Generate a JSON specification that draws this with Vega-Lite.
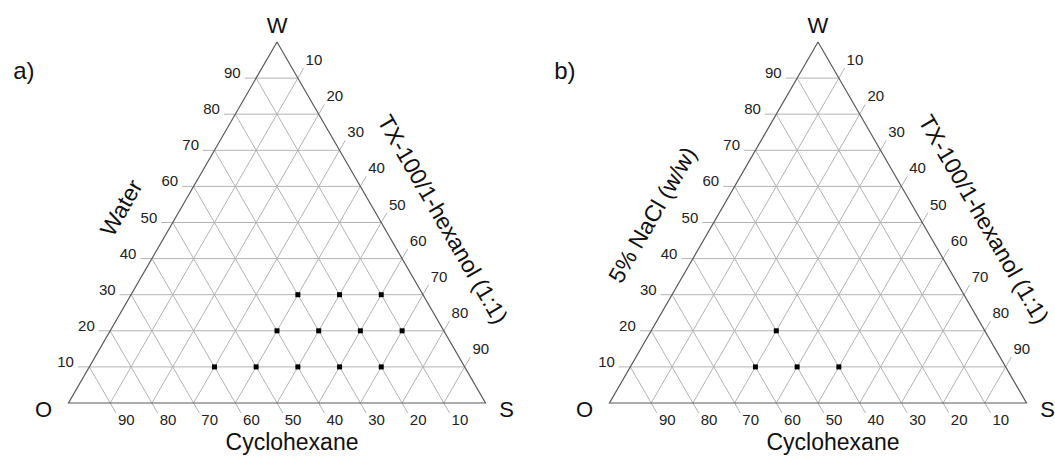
{
  "$schema": "https://vega.github.io/schema/vega-lite/v6.json",
  "padding": 0,
  "spacing": 0,
  "bounds": "flush",
  "background": "white",
  "config": {"view": {"stroke": null}, "text": {"font": "Liberation Sans"}},
  "datasets": {
    "grid": [
      {"fam": "W", "lev": 10}, {"fam": "W", "lev": 20}, {"fam": "W", "lev": 30}, {"fam": "W", "lev": 40}, {"fam": "W", "lev": 50}, {"fam": "W", "lev": 60}, {"fam": "W", "lev": 70}, {"fam": "W", "lev": 80}, {"fam": "W", "lev": 90},
      {"fam": "O", "lev": 10}, {"fam": "O", "lev": 20}, {"fam": "O", "lev": 30}, {"fam": "O", "lev": 40}, {"fam": "O", "lev": 50}, {"fam": "O", "lev": 60}, {"fam": "O", "lev": 70}, {"fam": "O", "lev": 80}, {"fam": "O", "lev": 90},
      {"fam": "S", "lev": 10}, {"fam": "S", "lev": 20}, {"fam": "S", "lev": 30}, {"fam": "S", "lev": 40}, {"fam": "S", "lev": 50}, {"fam": "S", "lev": 60}, {"fam": "S", "lev": 70}, {"fam": "S", "lev": 80}, {"fam": "S", "lev": 90}
    ],
    "tri": [
      {"k": 0, "W": 100, "S": 0}, {"k": 1, "W": 0, "S": 0}, {"k": 2, "W": 0, "S": 100}, {"k": 3, "W": 100, "S": 0}
    ],
    "pts": [
      {"panel": "a", "W": 30, "S": 40, "O": 30}, {"panel": "a", "W": 30, "S": 50, "O": 20}, {"panel": "a", "W": 30, "S": 60, "O": 10},
      {"panel": "a", "W": 20, "S": 40, "O": 40}, {"panel": "a", "W": 20, "S": 50, "O": 30}, {"panel": "a", "W": 20, "S": 60, "O": 20}, {"panel": "a", "W": 20, "S": 70, "O": 10},
      {"panel": "a", "W": 10, "S": 30, "O": 60}, {"panel": "a", "W": 10, "S": 40, "O": 50}, {"panel": "a", "W": 10, "S": 50, "O": 40}, {"panel": "a", "W": 10, "S": 60, "O": 30}, {"panel": "a", "W": 10, "S": 70, "O": 20},
      {"panel": "b", "W": 20, "S": 30, "O": 50},
      {"panel": "b", "W": 10, "S": 30, "O": 60}, {"panel": "b", "W": 10, "S": 40, "O": 50}, {"panel": "b", "W": 10, "S": 50, "O": 40}
    ]
  },
  "hconcat": [
    {
      "width": 541,
      "height": 461,
      "layer": [
        {
          "data": {"name": "grid"},
          "transform": [
            {"calculate": "datum.fam==='W' ? datum.lev/2-2.75 : datum.fam==='O' ? (100-datum.lev)/2 : datum.lev", "as": "x1"},
            {"calculate": "datum.fam==='W' ? datum.lev : datum.fam==='O' ? 100-datum.lev : 0", "as": "y1"},
            {"calculate": "datum.fam==='W' ? 100-datum.lev/2 : datum.fam==='O' ? 101.375-datum.lev : (102.75+datum.lev)/2", "as": "x2"},
            {"calculate": "datum.fam==='W' ? datum.lev : datum.fam==='O' ? -2.75 : 102.75-datum.lev", "as": "y2"}
          ],
          "mark": {"type": "rule", "color": "#b3b3b3", "strokeWidth": 1},
          "encoding": {
            "x": {"field": "x1", "type": "quantitative", "scale": {"domain": [-16.427, 113.309], "nice": false, "zero": false}, "axis": null},
            "y": {"field": "y1", "type": "quantitative", "scale": {"domain": [-16.066, 111.634], "nice": false, "zero": false}, "axis": null},
            "x2": {"field": "x2"},
            "y2": {"field": "y2"}
          }
        },
        {
          "data": {"name": "tri"},
          "transform": [{"calculate": "datum.S + datum.W/2", "as": "x"}],
          "mark": {"type": "line", "color": "#5a5a5a", "strokeWidth": 1.2},
          "encoding": {
            "x": {"field": "x", "type": "quantitative"},
            "y": {"field": "W", "type": "quantitative"},
            "order": {"field": "k", "type": "quantitative"}
          }
        },
        {
          "data": {"name": "grid"},
          "transform": [
            {"filter": "datum.fam==='W'"},
            {"calculate": "datum.lev/2-2.75", "as": "x1"}
          ],
          "mark": {"type": "text", "align": "right", "baseline": "alphabetic", "dx": -4, "dy": 0, "fontSize": 15, "color": "#222"},
          "encoding": {
            "x": {"field": "x1", "type": "quantitative"},
            "y": {"field": "lev", "type": "quantitative"},
            "text": {"field": "lev", "type": "nominal"}
          }
        },
        {
          "data": {"name": "grid"},
          "transform": [
            {"filter": "datum.fam==='O'"},
            {"calculate": "101.375-datum.lev", "as": "x2"},
            {"calculate": "-2.75", "as": "y2"}
          ],
          "mark": {"type": "text", "align": "left", "baseline": "top", "dx": 2, "dy": 0, "fontSize": 15, "color": "#222"},
          "encoding": {
            "x": {"field": "x2", "type": "quantitative"},
            "y": {"field": "y2", "type": "quantitative"},
            "text": {"field": "lev", "type": "nominal"}
          }
        },
        {
          "data": {"name": "grid"},
          "transform": [
            {"filter": "datum.fam==='S'"},
            {"calculate": "(102.75+datum.lev)/2", "as": "x2"},
            {"calculate": "102.75-datum.lev", "as": "y2"}
          ],
          "mark": {"type": "text", "align": "left", "baseline": "alphabetic", "dx": 2, "dy": -3, "fontSize": 15, "color": "#222"},
          "encoding": {
            "x": {"field": "x2", "type": "quantitative"},
            "y": {"field": "y2", "type": "quantitative"},
            "text": {"field": "lev", "type": "nominal"}
          }
        },
        {
          "data": {"name": "pts"},
          "transform": [
            {"filter": "datum.panel==='a'"},
            {"calculate": "datum.S + datum.W/2", "as": "x"}
          ],
          "mark": {"type": "square", "filled": true, "color": "black", "size": 25, "opacity": 1},
          "encoding": {
            "x": {"field": "x", "type": "quantitative"},
            "y": {"field": "W", "type": "quantitative"}
          }
        },
        {
          "data": {"values": [{}]},
          "mark": {"type": "text", "align": "center", "baseline": "alphabetic", "dy": -9, "fontSize": 22, "color": "#111"},
          "encoding": {"x": {"datum": 50, "type": "quantitative"}, "y": {"datum": 100, "type": "quantitative"}, "text": {"value": "W"}}
        },
        {
          "data": {"values": [{}]},
          "mark": {"type": "text", "align": "center", "baseline": "alphabetic", "dx": -25, "dy": 14, "fontSize": 22, "color": "#111"},
          "encoding": {"x": {"datum": 0, "type": "quantitative"}, "y": {"datum": 0, "type": "quantitative"}, "text": {"value": "O"}}
        },
        {
          "data": {"values": [{}]},
          "mark": {"type": "text", "align": "center", "baseline": "alphabetic", "dx": 21, "dy": 14, "fontSize": 22, "color": "#111"},
          "encoding": {"x": {"datum": 100, "type": "quantitative"}, "y": {"datum": 0, "type": "quantitative"}, "text": {"value": "S"}}
        },
        {
          "data": {"values": [{}]},
          "mark": {"type": "text", "align": "center", "baseline": "alphabetic", "dx": 15, "dy": 47, "fontSize": 23, "color": "#111"},
          "encoding": {"x": {"datum": 50, "type": "quantitative"}, "y": {"datum": 0, "type": "quantitative"}, "text": {"value": "Cyclohexane"}}
        },
        {
          "data": {"values": [{}]},
          "mark": {"type": "text", "align": "center", "baseline": "middle", "angle": -60, "dx": -13, "dy": -51, "fontSize": 23, "color": "#111"},
          "encoding": {"x": {"datum": 25, "type": "quantitative"}, "y": {"datum": 50, "type": "quantitative"}, "text": {"value": "Water"}}
        },
        {
          "data": {"values": [{}]},
          "mark": {"type": "text", "align": "center", "baseline": "middle", "angle": 60, "dx": 28, "dy": -54, "fontSize": 23, "color": "#111"},
          "encoding": {"x": {"datum": 75, "type": "quantitative"}, "y": {"datum": 50, "type": "quantitative"}, "text": {"value": "TX-100/1-hexanol (1:1)"}}
        },
        {
          "data": {"values": [{}]},
          "mark": {"type": "text", "align": "center", "baseline": "alphabetic", "fontSize": 24, "color": "#111"},
          "encoding": {"x": {"datum": -10.7, "type": "quantitative"}, "y": {"datum": 89.8, "type": "quantitative"}, "text": {"value": "a)"}}
        }
      ]
    },
    {
      "width": 514,
      "height": 461,
      "layer": [
        {
          "data": {"name": "grid"},
          "transform": [
            {"calculate": "datum.fam==='W' ? datum.lev/2-2.75 : datum.fam==='O' ? (100-datum.lev)/2 : datum.lev", "as": "x1"},
            {"calculate": "datum.fam==='W' ? datum.lev : datum.fam==='O' ? 100-datum.lev : 0", "as": "y1"},
            {"calculate": "datum.fam==='W' ? 100-datum.lev/2 : datum.fam==='O' ? 101.375-datum.lev : (102.75+datum.lev)/2", "as": "x2"},
            {"calculate": "datum.fam==='W' ? datum.lev : datum.fam==='O' ? -2.75 : 102.75-datum.lev", "as": "y2"}
          ],
          "mark": {"type": "rule", "color": "#b3b3b3", "strokeWidth": 1},
          "encoding": {
            "x": {"field": "x1", "type": "quantitative", "scale": {"domain": [-16.427, 106.835], "nice": false, "zero": false}, "axis": null},
            "y": {"field": "y1", "type": "quantitative", "scale": {"domain": [-16.066, 111.634], "nice": false, "zero": false}, "axis": null},
            "x2": {"field": "x2"},
            "y2": {"field": "y2"}
          }
        },
        {
          "data": {"name": "tri"},
          "transform": [{"calculate": "datum.S + datum.W/2", "as": "x"}],
          "mark": {"type": "line", "color": "#5a5a5a", "strokeWidth": 1.2},
          "encoding": {
            "x": {"field": "x", "type": "quantitative"},
            "y": {"field": "W", "type": "quantitative"},
            "order": {"field": "k", "type": "quantitative"}
          }
        },
        {
          "data": {"name": "grid"},
          "transform": [
            {"filter": "datum.fam==='W'"},
            {"calculate": "datum.lev/2-2.75", "as": "x1"}
          ],
          "mark": {"type": "text", "align": "right", "baseline": "alphabetic", "dx": -4, "dy": 0, "fontSize": 15, "color": "#222"},
          "encoding": {
            "x": {"field": "x1", "type": "quantitative"},
            "y": {"field": "lev", "type": "quantitative"},
            "text": {"field": "lev", "type": "nominal"}
          }
        },
        {
          "data": {"name": "grid"},
          "transform": [
            {"filter": "datum.fam==='O'"},
            {"calculate": "101.375-datum.lev", "as": "x2"},
            {"calculate": "-2.75", "as": "y2"}
          ],
          "mark": {"type": "text", "align": "left", "baseline": "top", "dx": 2, "dy": 0, "fontSize": 15, "color": "#222"},
          "encoding": {
            "x": {"field": "x2", "type": "quantitative"},
            "y": {"field": "y2", "type": "quantitative"},
            "text": {"field": "lev", "type": "nominal"}
          }
        },
        {
          "data": {"name": "grid"},
          "transform": [
            {"filter": "datum.fam==='S'"},
            {"calculate": "(102.75+datum.lev)/2", "as": "x2"},
            {"calculate": "102.75-datum.lev", "as": "y2"}
          ],
          "mark": {"type": "text", "align": "left", "baseline": "alphabetic", "dx": 2, "dy": -3, "fontSize": 15, "color": "#222"},
          "encoding": {
            "x": {"field": "x2", "type": "quantitative"},
            "y": {"field": "y2", "type": "quantitative"},
            "text": {"field": "lev", "type": "nominal"}
          }
        },
        {
          "data": {"name": "pts"},
          "transform": [
            {"filter": "datum.panel==='b'"},
            {"calculate": "datum.S + datum.W/2", "as": "x"}
          ],
          "mark": {"type": "square", "filled": true, "color": "black", "size": 25, "opacity": 1},
          "encoding": {
            "x": {"field": "x", "type": "quantitative"},
            "y": {"field": "W", "type": "quantitative"}
          }
        },
        {
          "data": {"values": [{}]},
          "mark": {"type": "text", "align": "center", "baseline": "alphabetic", "dy": -9, "fontSize": 22, "color": "#111"},
          "encoding": {"x": {"datum": 50, "type": "quantitative"}, "y": {"datum": 100, "type": "quantitative"}, "text": {"value": "W"}}
        },
        {
          "data": {"values": [{}]},
          "mark": {"type": "text", "align": "center", "baseline": "alphabetic", "dx": -25, "dy": 14, "fontSize": 22, "color": "#111"},
          "encoding": {"x": {"datum": 0, "type": "quantitative"}, "y": {"datum": 0, "type": "quantitative"}, "text": {"value": "O"}}
        },
        {
          "data": {"values": [{}]},
          "mark": {"type": "text", "align": "center", "baseline": "alphabetic", "dx": 21, "dy": 14, "fontSize": 22, "color": "#111"},
          "encoding": {"x": {"datum": 100, "type": "quantitative"}, "y": {"datum": 0, "type": "quantitative"}, "text": {"value": "S"}}
        },
        {
          "data": {"values": [{}]},
          "mark": {"type": "text", "align": "center", "baseline": "alphabetic", "dx": 15, "dy": 47, "fontSize": 23, "color": "#111"},
          "encoding": {"x": {"datum": 50, "type": "quantitative"}, "y": {"datum": 0, "type": "quantitative"}, "text": {"value": "Cyclohexane"}}
        },
        {
          "data": {"values": [{}]},
          "mark": {"type": "text", "align": "center", "baseline": "middle", "angle": -60, "dx": -24, "dy": -56, "fontSize": 23, "color": "#111"},
          "encoding": {"x": {"datum": 25, "type": "quantitative"}, "y": {"datum": 50, "type": "quantitative"}, "text": {"value": "5% NaCl (w/w)"}}
        },
        {
          "data": {"values": [{}]},
          "mark": {"type": "text", "align": "center", "baseline": "middle", "angle": 60, "dx": 28, "dy": -54, "fontSize": 23, "color": "#111"},
          "encoding": {"x": {"datum": 75, "type": "quantitative"}, "y": {"datum": 50, "type": "quantitative"}, "text": {"value": "TX-100/1-hexanol (1:1)"}}
        },
        {
          "data": {"values": [{}]},
          "mark": {"type": "text", "align": "center", "baseline": "alphabetic", "fontSize": 24, "color": "#111"},
          "encoding": {"x": {"datum": -10.7, "type": "quantitative"}, "y": {"datum": 89.8, "type": "quantitative"}, "text": {"value": "b)"}}
        }
      ]
    }
  ]
}
